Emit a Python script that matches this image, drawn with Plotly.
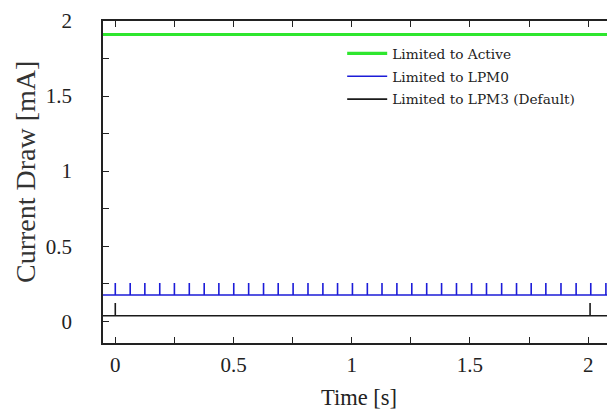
import plotly.graph_objects as go

# ---- data ----
series_names = ["Limited to Active", "Limited to LPM0", "Limited to LPM3 (Default)"]
series_colors = ["#2ee62e", "#1c1cd8", "#1a1a1a"]
series_widths = [3.2, 1.6, 1.6]
t_span = [-0.06, 2.12]  # time extent of recorded traces [s]

active_level = 1.91
lpm0_level = 0.175
lpm0_peak = 0.255
lpm0_spikes = [0.0, 0.063, 0.125, 0.188, 0.250, 0.313, 0.376, 0.438, 0.501, 0.564,
               0.627, 0.689, 0.752, 0.815, 0.878, 0.940, 1.003, 1.066, 1.128, 1.191,
               1.254, 1.317, 1.380, 1.443, 1.507, 1.570, 1.634, 1.697, 1.759, 1.821,
               1.885, 1.949, 2.011, 2.075]
lpm3_level = 0.037
lpm3_peak = 0.122
lpm3_spikes = [0.0, 2.008]

x_ticks = [0, 0.5, 1, 1.5, 2]
x_tick_labels = ["0", "0.5", "1", "1.5", "2"]
y_ticks = [0, 0.5, 1, 1.5, 2]
y_tick_labels = ["0", "0.5", "1", "1.5", "2"]
x_title = "Time [s]"
y_title = "Current Draw [mA]"


def spike_trace(level, peak, spikes):
    xs, ys = [t_span[0]], [level]
    for t in spikes:
        xs += [t, t, t]
        ys += [level, peak, level]
    xs.append(t_span[1])
    ys.append(level)
    return xs, ys


traces_xy = [
    ([t_span[0], t_span[1]], [active_level, active_level]),
    spike_trace(lpm0_level, lpm0_peak, lpm0_spikes),
    spike_trace(lpm3_level, lpm3_peak, lpm3_spikes),
]

fig = go.Figure()
for i, (xs, ys) in enumerate(traces_xy):
    fig.add_trace(go.Scatter(
        x=xs, y=ys, mode="lines", name=series_names[i],
        legendgroup=f"g{i}",
        line=dict(color=series_colors[i], width=series_widths[i]),
    ))

serif = "Liberation Serif, DejaVu Serif, serif"
axis_common = dict(
    showgrid=False, zeroline=False, showline=True, linecolor="#222", linewidth=1.5,
    mirror="allticks", ticks="inside", ticklen=6, tickwidth=1, tickcolor="#222",
    tickfont=dict(family=serif, size=21, color="#222"),
    minor=dict(ticks="inside", ticklen=6, tickwidth=1, tickcolor="#222", showgrid=False),
    automargin=False,
)

fig.update_xaxes(
    range=[-0.052, 2.105], tickvals=x_ticks, ticktext=x_tick_labels,
    minor_dtick=0.25, ticklabelstandoff=2,
    **axis_common,
)
fig.update_yaxes(
    range=[-0.145, 2.0], tickvals=y_ticks, ticktext=y_tick_labels,
    minor_dtick=0.25, ticklabelstandoff=25,
    **axis_common,
)

fig.add_annotation(
    text=x_title, xref="paper", yref="paper", x=0.502, y=-0.168,
    xanchor="center", yanchor="middle", showarrow=False,
    font=dict(family=serif, size=22.5, color="#222"),
)
fig.add_annotation(
    text=y_title, xref="paper", yref="paper", x=-0.153, y=0.531,
    xanchor="center", yanchor="middle", showarrow=False, textangle=-90,
    font=dict(family=serif, size=28, color="#333"),
)

fig.update_layout(
    width=607, height=402,
    margin=dict(l=95, r=2, t=13, b=67),
    paper_bgcolor="white", plot_bgcolor="white",
    legend=dict(
        x=0.469, y=0.947, xanchor="left", yanchor="top",
        bgcolor="rgba(0,0,0,0)", borderwidth=0,
        font=dict(family="DejaVu Serif, serif", size=13.7, color="#222"),
        traceorder="grouped", tracegroupgap=2, itemwidth=40,
    ),
)

fig.write_html("out.html")
